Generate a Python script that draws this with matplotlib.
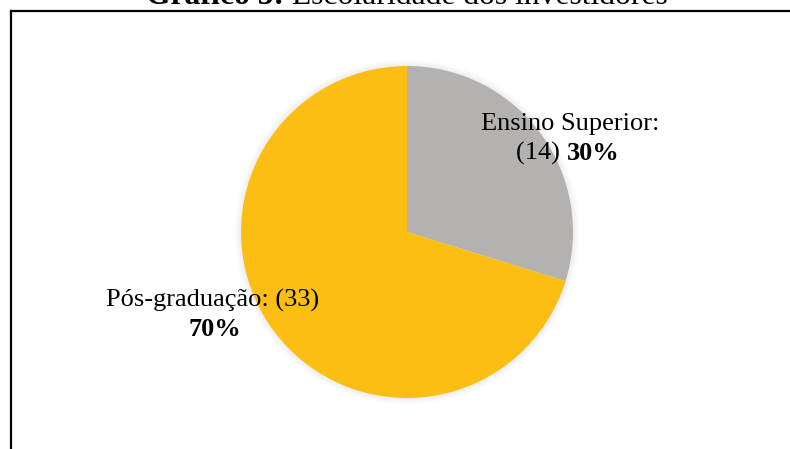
import matplotlib.pyplot as plt
from matplotlib.patches import Circle
from matplotlib.lines import Line2D

plt.rcParams["font.family"] = ["Liberation Serif", "DejaVu Serif"]

# Escolaridade dos investidores
categorias = ["Ensino Superior", "Pós-graduação"]
contagens = [14, 33]
cores = ["#B3B2B0", "#FDBE14"]

W, H = 790, 449
fig = plt.figure(figsize=(W / 100, H / 100), dpi=100)

# moldura (só topo e lado esquerdo aparecem)
fig.add_artist(Line2D([10.5 / W, 10.5 / W], [0, 1 - 11 / H], color="black", lw=1.6,
                      solid_capstyle="projecting"))
fig.add_artist(Line2D([10.5 / W, 1], [1 - 11 / H, 1 - 11 / H], color="black", lw=1.6,
                      solid_capstyle="projecting"))

cx, cy, r = 407, 232, 166
ax = fig.add_axes([(cx - r) / W, (H - cy - r) / H, 2 * r / W, 2 * r / H])

# sombra suave em volta da pizza
for i in range(8):
    ax.add_patch(Circle((0, 0), 1.0 + 0.005 * (i + 1), color="black", alpha=0.008, lw=0,
                        zorder=0, clip_on=False))

ax.pie(contagens, colors=cores, startangle=90, counterclock=False,
       wedgeprops=dict(linewidth=0), radius=1)
ax.set_xlim(-1, 1)
ax.set_ylim(-1, 1)
ax.set_aspect("equal")
ax.axis("off")

renderer = fig.canvas.get_renderer()
fs = 19


def linha(partes, x, y, size=fs, va="center"):
    """Escreve uma linha centrada em x (px) com trechos normais/negrito."""
    textos = []
    for txt, peso in partes:
        t = fig.text(0, 0, txt, fontsize=size, fontweight=peso, va=va, ha="left")
        textos.append(t)
    larguras = [t.get_window_extent(renderer).width for t in textos]
    x0 = x - sum(larguras) / 2
    for t, w in zip(textos, larguras):
        t.set_position((x0 / W, 1 - y / H))
        x0 += w


total = sum(contagens)
pct = [round(100 * c / total) for c in contagens]

linha([("Gráfico 5:", "bold"), (" Escolaridade dos investidores", "normal")], 407, 4.5,
      22.8, va="baseline")

linha([(f"{categorias[0]}:", "normal")], 570, 124)
linha([(f"({contagens[0]}) ", "normal"), (f"{pct[0]}%", "bold")], 568, 153)

linha([(f"{categorias[1]}: ({contagens[1]})", "normal")], 213, 300)
linha([(f"{pct[1]}%", "bold")], 215, 329)

fig.savefig("out.png", dpi=100)
